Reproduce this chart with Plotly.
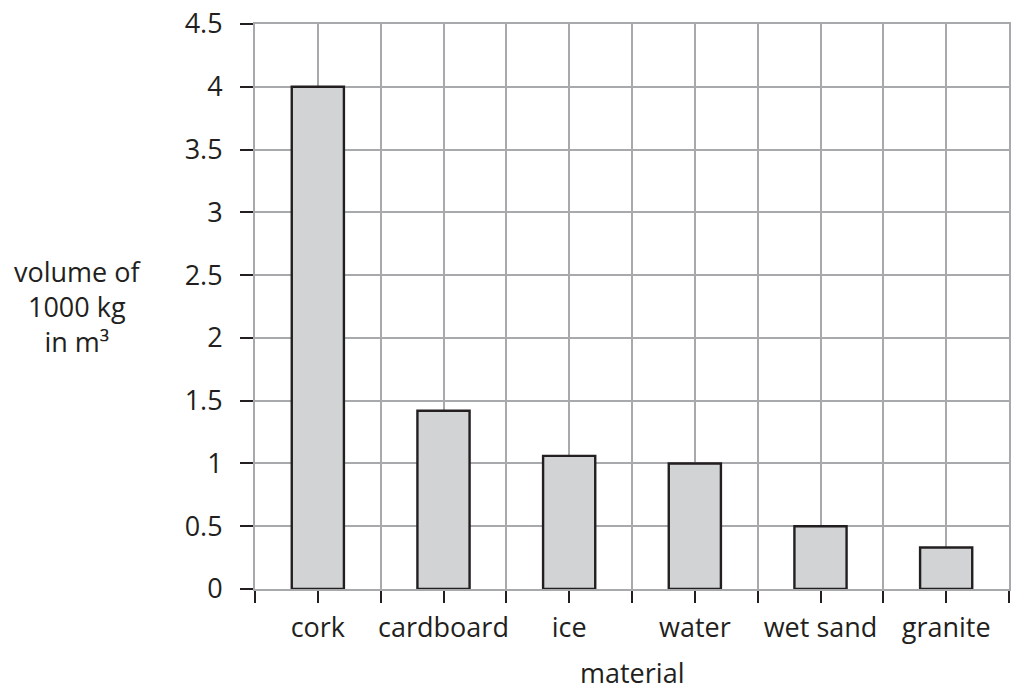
import plotly.graph_objects as go

materials = ["cork", "cardboard", "ice", "water", "wet sand", "granite"]
volumes = [4.0, 1.42, 1.06, 1.0, 0.5, 0.33]
y_ticks = [0, 0.5, 1, 1.5, 2, 2.5, 3, 3.5, 4, 4.5]
y_tick_text = ["0", "0.5", "1", "1.5", "2", "2.5", "3", "3.5", "4", "4.5"]

GRID = "#a7a9ac"
INK = "#231f20"
FONT = "Open Sans"
FS = 27

xpos = list(range(len(materials)))
x_tickvals = []
x_ticktext = []
for i, m in enumerate(materials):
    x_tickvals += [i - 0.5, i]
    x_ticktext += [" ", m]
x_tickvals.append(len(materials) - 0.5)
x_ticktext.append(" ")

fig = go.Figure(go.Bar(
    x=xpos, y=volumes, width=0.415,
    marker=dict(color="#d1d3d4", line=dict(color=INK, width=2.4)),
))

fig.update_layout(
    width=1011, height=690,
    margin=dict(l=254.5, r=1.5, t=23.5, b=100.5, autoexpand=False),
    plot_bgcolor="white", paper_bgcolor="white",
    showlegend=False,
    font=dict(family=FONT, size=FS, color=INK),
)
fig.update_xaxes(
    range=[-0.5, len(materials) - 0.5],
    tickmode="array", tickvals=x_tickvals, ticktext=x_ticktext,
    tickangle=0,
    showgrid=True, gridcolor=GRID, gridwidth=2,
    showline=True, linecolor=GRID, linewidth=2, mirror=True,
    ticks="outside", ticklen=12, tickwidth=2, tickcolor=INK,
    zeroline=False, tickfont=dict(size=FS), ticklabelstandoff=2,
)
fig.update_yaxes(
    range=[0, 4.5],
    tickmode="array", tickvals=y_ticks, ticktext=y_tick_text,
    showgrid=True, gridcolor=GRID, gridwidth=2,
    showline=True, linecolor=GRID, linewidth=2, mirror=True,
    ticks="outside", ticklen=13, tickwidth=2, tickcolor=INK,
    zeroline=False, tickfont=dict(size=FS), ticklabelstandoff=12,
)
fig.add_annotation(
    text="volume of<br>1000 kg<br>in m³",
    xref="paper", yref="paper", x=-0.235, y=0.5, xanchor="center", yanchor="middle",
    showarrow=False, align="center", font=dict(size=FS),
)
fig.add_annotation(
    text="material", xref="paper", yref="paper", x=0.5, y=-0.148,
    xanchor="center", yanchor="middle", showarrow=False, font=dict(size=FS),
)
fig.write_html(
    "out.html",
    config={"displayModeBar": False},
    post_script="document.body.style.margin='0';document.body.style.overflow='hidden';",
)
